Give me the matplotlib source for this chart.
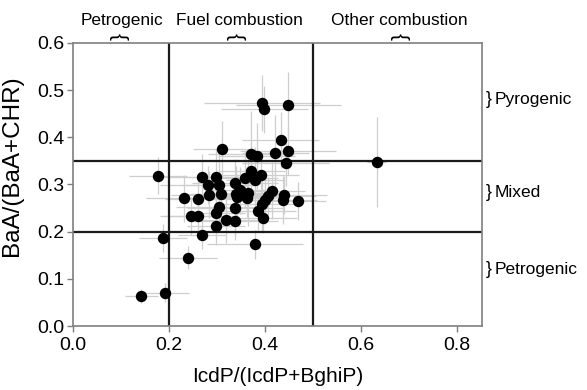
import numpy as np
import matplotlib.pyplot as plt

plt.rcParams['font.family'] = ['Liberation Sans', 'DejaVu Sans']

# IcdP/(IcdP+BghiP) ratio
x = [0.394, 0.399, 0.449, 0.433, 0.422, 0.449, 0.311, 0.371, 0.383, 0.443,
     0.178, 0.372, 0.391, 0.379, 0.270, 0.298, 0.282, 0.305, 0.338, 0.358,
     0.284, 0.308, 0.340, 0.348, 0.365, 0.363, 0.341, 0.414, 0.407, 0.400,
     0.393, 0.440, 0.438, 0.468, 0.232, 0.261, 0.305, 0.299, 0.338, 0.385,
     0.396, 0.247, 0.261, 0.320, 0.338, 0.298, 0.270, 0.187, 0.379, 0.240,
     0.633, 0.143, 0.192]
# BaA/(BaA+CHR) ratio
y = [0.473, 0.459, 0.468, 0.394, 0.367, 0.371, 0.375, 0.365, 0.360, 0.346,
     0.319, 0.329, 0.320, 0.310, 0.315, 0.315, 0.299, 0.299, 0.304, 0.313,
     0.278, 0.280, 0.280, 0.288, 0.281, 0.271, 0.273, 0.287, 0.276, 0.267,
     0.259, 0.278, 0.267, 0.265, 0.271, 0.269, 0.253, 0.240, 0.250, 0.244,
     0.228, 0.233, 0.233, 0.225, 0.223, 0.211, 0.193, 0.186, 0.173, 0.145,
     0.348, 0.064, 0.071]
x_err = [0.12, 0.09, 0.11, 0.08, 0.07, 0.10, 0.06, 0.09, 0.08, 0.09,
         0.06, 0.07, 0.08, 0.06, 0.09, 0.07, 0.10, 0.08, 0.09, 0.07,
         0.08, 0.06, 0.10, 0.07, 0.08, 0.06, 0.09, 0.07, 0.10, 0.06,
         0.08, 0.09, 0.07, 0.06, 0.08, 0.07, 0.09, 0.06, 0.10, 0.08,
         0.07, 0.06, 0.08, 0.07, 0.09, 0.06, 0.05, 0.05, 0.10, 0.06,
         0.02, 0.035, 0.05]
y_err = [0.06, 0.05, 0.07, 0.06, 0.08, 0.05, 0.06, 0.09, 0.07, 0.05,
         0.04, 0.06, 0.05, 0.07, 0.05, 0.06, 0.04, 0.07, 0.05, 0.06,
         0.05, 0.04, 0.06, 0.05, 0.07, 0.04, 0.05, 0.06, 0.04, 0.05,
         0.06, 0.04, 0.05, 0.04, 0.05, 0.04, 0.05, 0.04, 0.06, 0.04,
         0.03, 0.04, 0.03, 0.05, 0.04, 0.04, 0.03, 0.03, 0.03, 0.025,
         0.095, 0.015, 0.02]

x_bounds = [0.2, 0.5]
y_bounds = [0.2, 0.35]

top_labels = ['Petrogenic', 'Fuel combustion', 'Other combustion']
top_label_x = [0.102, 0.348, 0.681]
top_brace_x = [0.098, 0.342, 0.683]
side_labels = ['Pyrogenic', 'Mixed', 'Petrogenic']
side_label_y = [0.479, 0.282, 0.119]

fig = plt.figure(figsize=(5.87, 3.90), dpi=100)
ax = fig.add_axes([0.124, 0.164, 0.697, 0.726])

ax.errorbar(x, y, xerr=x_err, yerr=y_err, fmt='none', ecolor='#cfcfcf',
            elinewidth=0.9, capsize=0, zorder=1)
for xb in x_bounds:
    ax.axvline(xb, color='#1a1a1a', lw=1.6, zorder=2)
for yb in y_bounds:
    ax.axhline(yb, color='#1a1a1a', lw=1.6, zorder=2)
ax.plot(x, y, 'o', color='black', markersize=7.2, zorder=3)

ax.set_xlim(0, 0.852)
ax.set_ylim(0, 0.6)
ax.set_xticks([0.0, 0.2, 0.4, 0.6, 0.8])
ax.set_yticks([0.0, 0.1, 0.2, 0.3, 0.4, 0.5, 0.6])
ax.xaxis.set_major_formatter(plt.FormatStrFormatter('%.1f'))
ax.yaxis.set_major_formatter(plt.FormatStrFormatter('%.1f'))
ax.tick_params(labelsize=14, length=4, color='#7f7f7f', width=1, pad=2)
ax.tick_params(axis='x', pad=4)
for s in ax.spines.values():
    s.set_color('#7f7f7f')
    s.set_linewidth(1.2)
ax.set_xlabel('IcdP/(IcdP+BghiP)', fontsize=15, labelpad=9)
ax.set_ylabel('BaA/(BaA+CHR)', fontsize=17.5)
ax.yaxis.set_label_coords(-0.122, 0.565)

trans = ax.get_xaxis_transform()
for lab, tx, bx in zip(top_labels, top_label_x, top_brace_x):
    ax.text(tx, 1.078, lab, transform=trans, ha='center', va='center',
            fontsize=12.4, clip_on=False)
    ax.text(bx, 1.022, '}', transform=trans, ha='center', va='center',
            fontsize=15, rotation=90, clip_on=False)

ytrans = ax.get_yaxis_transform()
for lab, ty in zip(side_labels, side_label_y):
    ax.text(1.01, ty, '}', transform=ytrans, ha='left', va='center',
            fontsize=13, clip_on=False)
    ax.text(1.032, ty, lab, transform=ytrans, ha='left', va='center',
            fontsize=12.5, clip_on=False)

fig.savefig('out.png', dpi=100)
